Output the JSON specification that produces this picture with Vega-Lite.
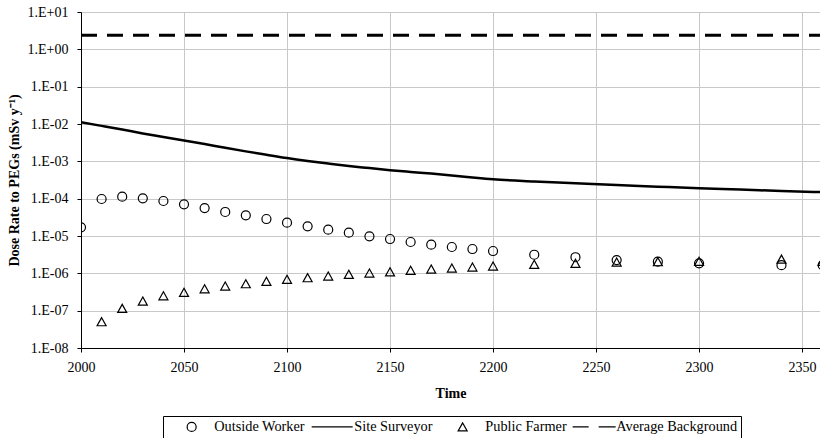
{
  "$schema": "https://vega.github.io/schema/vega-lite/v6.json",
  "width": 739,
  "height": 336,
  "autosize": {"type": "none"},
  "padding": {"left": 81, "top": 12, "right": 0, "bottom": 90},
  "background": "white",
  "config": {
    "font": "Liberation Serif",
    "view": {"stroke": null},
    "axis": {
      "labelFont": "Liberation Serif",
      "labelFontSize": 14,
      "labelColor": "black",
      "titleFont": "Liberation Serif",
      "titleFontSize": 14,
      "titleFontWeight": "bold",
      "titleColor": "black",
      "domainColor": "black",
      "domainWidth": 1,
      "tickColor": "black",
      "tickSize": 4,
      "gridColor": "#c8c8c8",
      "gridWidth": 1
    }
  },
  "datasets": {
    "doses": [
      {"series": "Average Background", "year": 2000, "value": 2.4},
      {"series": "Average Background", "year": 2360, "value": 2.4},
      {"series": "Site Surveyor", "year": 2000, "value": 0.0111},
      {"series": "Site Surveyor", "year": 2010, "value": 0.0089},
      {"series": "Site Surveyor", "year": 2020, "value": 0.0071},
      {"series": "Site Surveyor", "year": 2030, "value": 0.0056},
      {"series": "Site Surveyor", "year": 2040, "value": 0.0045},
      {"series": "Site Surveyor", "year": 2050, "value": 0.0036},
      {"series": "Site Surveyor", "year": 2060, "value": 0.0029},
      {"series": "Site Surveyor", "year": 2070, "value": 0.0023},
      {"series": "Site Surveyor", "year": 2080, "value": 0.00185},
      {"series": "Site Surveyor", "year": 2090, "value": 0.0015},
      {"series": "Site Surveyor", "year": 2100, "value": 0.00122},
      {"series": "Site Surveyor", "year": 2110, "value": 0.00102},
      {"series": "Site Surveyor", "year": 2120, "value": 0.00087},
      {"series": "Site Surveyor", "year": 2130, "value": 0.00075},
      {"series": "Site Surveyor", "year": 2140, "value": 0.00066},
      {"series": "Site Surveyor", "year": 2150, "value": 0.00058},
      {"series": "Site Surveyor", "year": 2160, "value": 0.00052},
      {"series": "Site Surveyor", "year": 2170, "value": 0.00047},
      {"series": "Site Surveyor", "year": 2180, "value": 0.00042},
      {"series": "Site Surveyor", "year": 2190, "value": 0.00037},
      {"series": "Site Surveyor", "year": 2200, "value": 0.00033},
      {"series": "Site Surveyor", "year": 2220, "value": 0.00029},
      {"series": "Site Surveyor", "year": 2240, "value": 0.00026},
      {"series": "Site Surveyor", "year": 2260, "value": 0.000232},
      {"series": "Site Surveyor", "year": 2280, "value": 0.00021},
      {"series": "Site Surveyor", "year": 2300, "value": 0.00019},
      {"series": "Site Surveyor", "year": 2320, "value": 0.000175},
      {"series": "Site Surveyor", "year": 2340, "value": 0.00016},
      {"series": "Site Surveyor", "year": 2360, "value": 0.00015},
      {"series": "Outside Worker", "year": 2000, "value": 1.71e-5},
      {"series": "Outside Worker", "year": 2010, "value": 9.8e-5},
      {"series": "Outside Worker", "year": 2020, "value": 1.13e-4},
      {"series": "Outside Worker", "year": 2030, "value": 1.02e-4},
      {"series": "Outside Worker", "year": 2040, "value": 8.65e-5},
      {"series": "Outside Worker", "year": 2050, "value": 7.05e-5},
      {"series": "Outside Worker", "year": 2060, "value": 5.6e-5},
      {"series": "Outside Worker", "year": 2070, "value": 4.4e-5},
      {"series": "Outside Worker", "year": 2080, "value": 3.57e-5},
      {"series": "Outside Worker", "year": 2090, "value": 2.85e-5},
      {"series": "Outside Worker", "year": 2100, "value": 2.27e-5},
      {"series": "Outside Worker", "year": 2110, "value": 1.82e-5},
      {"series": "Outside Worker", "year": 2120, "value": 1.48e-5},
      {"series": "Outside Worker", "year": 2130, "value": 1.23e-5},
      {"series": "Outside Worker", "year": 2140, "value": 9.8e-6},
      {"series": "Outside Worker", "year": 2150, "value": 8.3e-6},
      {"series": "Outside Worker", "year": 2160, "value": 6.9e-6},
      {"series": "Outside Worker", "year": 2170, "value": 5.85e-6},
      {"series": "Outside Worker", "year": 2180, "value": 5.07e-6},
      {"series": "Outside Worker", "year": 2190, "value": 4.48e-6},
      {"series": "Outside Worker", "year": 2200, "value": 3.96e-6},
      {"series": "Outside Worker", "year": 2220, "value": 3.15e-6},
      {"series": "Outside Worker", "year": 2240, "value": 2.7e-6},
      {"series": "Outside Worker", "year": 2260, "value": 2.27e-6},
      {"series": "Outside Worker", "year": 2280, "value": 2.05e-6},
      {"series": "Outside Worker", "year": 2300, "value": 1.85e-6},
      {"series": "Outside Worker", "year": 2340, "value": 1.65e-6},
      {"series": "Outside Worker", "year": 2360, "value": 1.65e-6},
      {"series": "Public Farmer", "year": 2010, "value": 5.06e-8},
      {"series": "Public Farmer", "year": 2020, "value": 1.15e-7},
      {"series": "Public Farmer", "year": 2030, "value": 1.81e-7},
      {"series": "Public Farmer", "year": 2040, "value": 2.51e-7},
      {"series": "Public Farmer", "year": 2050, "value": 3.1e-7},
      {"series": "Public Farmer", "year": 2060, "value": 3.87e-7},
      {"series": "Public Farmer", "year": 2070, "value": 4.57e-7},
      {"series": "Public Farmer", "year": 2080, "value": 5.27e-7},
      {"series": "Public Farmer", "year": 2090, "value": 6.1e-7},
      {"series": "Public Farmer", "year": 2100, "value": 6.9e-7},
      {"series": "Public Farmer", "year": 2110, "value": 7.64e-7},
      {"series": "Public Farmer", "year": 2120, "value": 8.47e-7},
      {"series": "Public Farmer", "year": 2130, "value": 9.4e-7},
      {"series": "Public Farmer", "year": 2140, "value": 1.02e-6},
      {"series": "Public Farmer", "year": 2150, "value": 1.1e-6},
      {"series": "Public Farmer", "year": 2160, "value": 1.2e-6},
      {"series": "Public Farmer", "year": 2170, "value": 1.3e-6},
      {"series": "Public Farmer", "year": 2180, "value": 1.39e-6},
      {"series": "Public Farmer", "year": 2190, "value": 1.48e-6},
      {"series": "Public Farmer", "year": 2200, "value": 1.57e-6},
      {"series": "Public Farmer", "year": 2220, "value": 1.74e-6},
      {"series": "Public Farmer", "year": 2240, "value": 1.85e-6},
      {"series": "Public Farmer", "year": 2260, "value": 2.0e-6},
      {"series": "Public Farmer", "year": 2280, "value": 2.05e-6},
      {"series": "Public Farmer", "year": 2300, "value": 2.1e-6},
      {"series": "Public Farmer", "year": 2340, "value": 2.4e-6},
      {"series": "Public Farmer", "year": 2360, "value": 2.1e-6}
    ]
  },
  "data": {"name": "doses"},
  "encoding": {
    "x": {
      "field": "year",
      "type": "quantitative",
      "scale": {"domain": [2000, 2358.7], "nice": false, "zero": false},
      "axis": {
        "title": "Time",
        "values": [2000, 2050, 2100, 2150, 2200, 2250, 2300, 2350],
        "format": "d",
        "labelPadding": 8,
        "titlePadding": 12,
        "labelFlush": false
      }
    },
    "y": {
      "field": "value",
      "type": "quantitative",
      "scale": {"type": "log", "domain": [1e-8, 10], "nice": false},
      "axis": {
        "title": "Dose Rate to PEGs (mSv y⁻¹)",
        "values": [1e-8, 1e-7, 1e-6, 1e-5, 1e-4, 1e-3, 1e-2, 1e-1, 1, 10],
        "labelExpr": "'1.E' + (round(log(datum.value)/LN10) >= 0 ? '+' : '-') + (abs(round(log(datum.value)/LN10)) < 10 ? '0' : '') + abs(round(log(datum.value)/LN10))",
        "labelPadding": 9,
        "titlePadding": 6,
        "labelFlush": false
      }
    }
  },
  "layer": [
    {
      "transform": [{"filter": "datum.series === 'Average Background'"}],
      "mark": {"type": "line", "color": "black", "strokeWidth": 3, "strokeDash": [16, 10], "clip": true}
    },
    {
      "transform": [{"filter": "datum.series === 'Site Surveyor'"}],
      "mark": {"type": "line", "color": "black", "strokeWidth": 2.5, "clip": true, "interpolate": "monotone"}
    },
    {
      "transform": [{"filter": "datum.series === 'Outside Worker' || datum.series === 'Public Farmer'"}],
      "mark": {"type": "point", "filled": false, "color": "black", "size": 81, "strokeWidth": 1.2, "opacity": 1, "clip": true},
      "encoding": {
        "shape": {
          "field": "series",
          "type": "nominal",
          "scale": {
            "domain": ["Outside Worker", "Site Surveyor", "Public Farmer", "Average Background"],
            "range": [
              "circle",
              "M-4.44,0H4.67",
              "M-5.56,0L-5.56,0M0,-0.9L-1,0.9L1,0.9Z",
              "M-4.67,0H-1.11M1.11,0H4.89"
            ]
          },
          "legend": {
            "title": null,
            "orient": "none",
            "legendX": 82,
            "legendY": 404,
            "direction": "horizontal",
            "columns": 4,
            "strokeColor": "black",
            "padding": 3.5,
            "labelFont": "Liberation Serif",
            "labelFontSize": 14.3,
            "labelColor": "black",
            "symbolOffset": 18,
            "labelOffset": 15.5,
            "columnPadding": 1,
            "symbolSize": 81,
            "symbolStrokeColor": "black",
            "symbolFillColor": "transparent",
            "symbolStrokeWidth": 1.2,
            "encode": {
              "symbols": {
                "update": {
                  "strokeWidth": {"signal": "datum.value === 'Site Surveyor' ? 2 : (datum.value === 'Average Background' ? 2.5 : 1.2)"}
                }
              }
            }
          }
        }
      }
    }
  ]
}
